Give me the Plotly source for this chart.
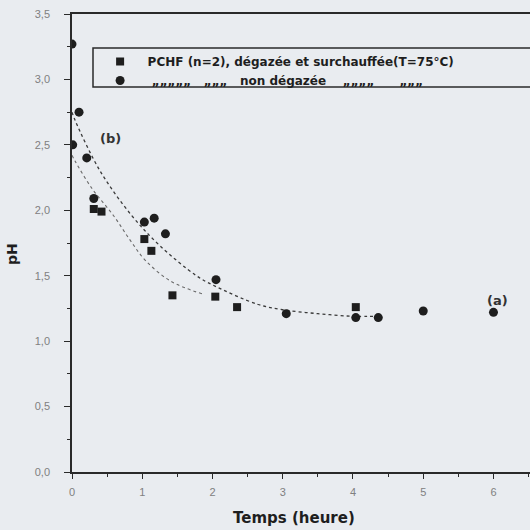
import plotly.graph_objects as go

# ---- data ----
time_degassed = [0.31, 0.42, 1.03, 1.13, 1.43, 2.04, 2.35, 4.04]
ph_degassed = [2.01, 1.99, 1.78, 1.69, 1.35, 1.34, 1.26, 1.26]

time_non_degassed = [0.0, 0.10, 0.01, 0.21, 0.31, 1.03, 1.17, 1.33, 2.05, 3.05, 4.04, 4.36, 5.0, 6.0]
ph_non_degassed = [3.27, 2.75, 2.50, 2.40, 2.09, 1.91, 1.94, 1.82, 1.47, 1.21, 1.18, 1.18, 1.23, 1.22]

fit_b_time = [0.0, 0.05, 0.4, 0.85, 1.25, 1.77, 2.0, 2.65, 3.0, 3.5, 4.0, 4.37]
fit_b_ph = [2.75, 2.68, 2.30, 1.96, 1.73, 1.50, 1.43, 1.28, 1.24, 1.21, 1.19, 1.19]

fit_a_time = [0.0, 0.05, 0.28, 0.59, 0.83, 1.04, 1.4, 1.86]
fit_a_ph = [2.42, 2.37, 2.17, 1.96, 1.77, 1.62, 1.46, 1.36]

y_tick_vals = [0.0, 0.5, 1.0, 1.5, 2.0, 2.5, 3.0, 3.5]
y_tick_text = ["0,0", "0,5", "1,0", "1,5", "2,0", "2,5", "3,0", "3,5"]
x_tick_vals = [0, 1, 2, 3, 4, 5, 6]
x_tick_text = ["0", "1", "2", "3", "4", "5", "6"]

name_degassed = "<b>PCHF (n=2), dégazée et surchauffée(T=75°C)</b>"
name_non = "<b> „„„„„   „„„   non dégazée    „„„„      „„„</b>"

BG = "#e9ecf0"
INK = "#1e1e1e"

fig = go.Figure()
fig.add_trace(go.Scatter(x=fit_b_time, y=fit_b_ph, mode="lines", line=dict(color="#3a3a3a", width=1.3, dash="dot", shape="spline"), showlegend=False, hoverinfo="skip"))
fig.add_trace(go.Scatter(x=fit_a_time, y=fit_a_ph, mode="lines", line=dict(color="#6a6a6a", width=1.1, dash="dot", shape="spline"), showlegend=False, hoverinfo="skip"))
fig.add_trace(go.Scatter(x=time_degassed, y=ph_degassed, mode="markers", name=name_degassed,
                         marker=dict(symbol="square", size=8, color=INK)))
fig.add_trace(go.Scatter(x=time_non_degassed, y=ph_non_degassed, mode="markers", name=name_non,
                         marker=dict(symbol="circle", size=9, color=INK)))

fig.update_layout(
    width=530, height=530,
    margin=dict(l=72, r=0, t=14, b=58),
    paper_bgcolor=BG, plot_bgcolor=BG,
    font=dict(family="DejaVu Sans", color=INK),
    showlegend=True,
    legend=dict(x=0.045, y=0.928, xanchor="left", yanchor="top",
                bgcolor="rgba(0,0,0,0)", borderwidth=0,
                font=dict(family="DejaVu Sans", size=12, color=INK),
                tracegroupgap=0, itemwidth=45),
    xaxis=dict(range=[0, 6.52], showgrid=False, zeroline=False,
               showline=True, linecolor="#2a2a2a", linewidth=1.5, mirror=True,
               tickvals=x_tick_vals, ticktext=x_tick_text,
               ticks="outside", ticklen=5, tickwidth=1.3, tickcolor="#2a2a2a",
               ticklabelstandoff=4,
               minor=dict(dtick=0.5, ticks="outside", ticklen=3, tickcolor="#2a2a2a"),
               tickfont=dict(family="Liberation Sans", size=11, color="#808080")),
    yaxis=dict(range=[0, 3.5], showgrid=False, zeroline=False,
               showline=True, linecolor="#2a2a2a", linewidth=1.5,
               tickvals=y_tick_vals, ticktext=y_tick_text,
               ticks="outside", ticklen=6, tickwidth=1.3, tickcolor="#2a2a2a",
               ticklabelstandoff=12,
               minor=dict(dtick=0.25, ticks="outside", ticklen=3, tickcolor="#2a2a2a"),
               tickfont=dict(family="Liberation Sans", size=11, color="#808080")),
    shapes=[dict(type="rect", xref="paper", yref="paper",
                 x0=(93 - 72) / 458, x1=1.05, y0=(472 - 87) / 458, y1=(472 - 48) / 458,
                 line=dict(color="#2a2a2a", width=1.5), fillcolor="rgba(0,0,0,0)")],
    annotations=[
        dict(text="<b>Temps (heure)</b>", xref="paper", yref="paper",
             x=(294 - 72) / 458, y=(472 - 518) / 458, xanchor="center", yanchor="middle",
             showarrow=False, font=dict(family="DejaVu Sans", size=15, color=INK)),
        dict(text="<b>pH</b>", xref="paper", yref="paper",
             x=(12 - 72) / 458, y=(472 - 254) / 458, xanchor="center", yanchor="middle",
             textangle=-90, showarrow=False, font=dict(family="DejaVu Sans", size=14, color=INK)),
        dict(text="<b>(b)</b>", xref="x", yref="y", x=0.545, y=2.55,
             showarrow=False, font=dict(family="DejaVu Sans", size=13, color="#333333")),
        dict(text="<b>(a)</b>", xref="x", yref="y", x=6.06, y=1.31,
             showarrow=False, font=dict(family="DejaVu Sans", size=13, color="#333333")),
    ],
)

fig.write_html("out.html")
